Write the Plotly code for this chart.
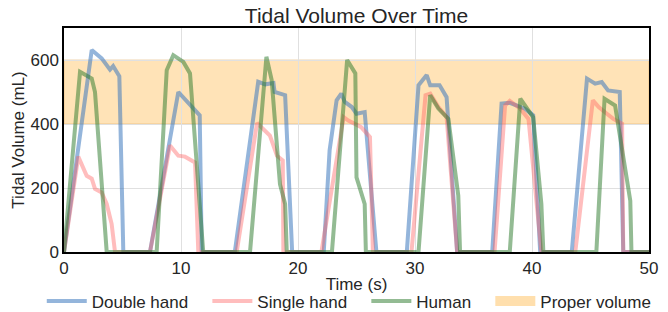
import plotly.graph_objects as go

# Double hand
t_double = [0, 2.37, 3.22, 3.93, 4.2, 4.73, 5.07, 7.35, 9.77, 11.6, 11.77, 14.6, 16.6, 17.2, 17.9, 18.0,
            18.9, 19.5, 22.2, 22.7, 23.3, 23.7, 24.0, 24.6, 25.0, 25.7, 26.7, 29.3, 30.3, 31.0, 31.3, 32.1,
            32.7, 33.6, 36.6, 37.4, 38.1, 38.8, 39.4, 40.1, 40.7, 43.4, 44.7, 45.4, 45.96, 46.5, 47.5, 47.8, 50]
v_double = [0, 631, 605, 570, 581, 549, 0, 0, 500, 427, 0, 0, 532, 524, 528, 500,
            490, 0, 0, 317, 474, 495, 469, 453, 432, 437, 0, 0, 521, 553, 521, 521,
            484, 0, 0, 464, 466, 458, 448, 427, 0, 0, 542, 526, 531, 505, 500, 0, 0]

# Single hand
t_single = [0, 1.22, 1.94, 2.37, 2.65, 3.22, 3.65, 4.07, 4.36, 7.35, 9.06, 9.77, 10.34, 11.2, 11.48,
            14.76, 16.5, 16.9, 17.6, 18.2, 18.7, 18.75, 22.0, 23.9, 24.3, 25.4, 26.15, 26.4,
            29.7, 30.9, 31.3, 32.0, 32.7, 33.6, 36.8, 37.7, 38.1, 39.0, 39.7, 40.8,
            43.7, 45.2, 45.7, 46.4, 46.95, 47.7, 47.8, 50]
v_single = [0, 298, 238, 229, 197, 186, 150, 88, 0, 0, 333, 301, 298, 280, 0,
            0, 403, 388, 364, 301, 286, 0, 0, 422, 411, 390, 359, 0,
            0, 490, 495, 453, 422, 0, 0, 458, 472, 448, 416, 0,
            0, 474, 453, 432, 416, 401, 0, 0]

# Human
t_human = [0, 1.37, 2.37, 2.65, 3.65, 7.92, 8.78, 9.34, 10.2, 10.77, 11.9, 15.9, 17.3, 17.75, 18.46,
           18.9, 19.04, 22.9, 24.2, 24.9, 25.0, 25.7, 25.8, 30.3, 31.3, 32.0, 32.85, 33.7, 33.85,
           38.1, 39.0, 39.5, 40.1, 40.8, 40.97, 45.5, 46.2, 47.1, 48.4, 48.5, 50]
v_human = [0, 563, 542, 500, 0, 0, 568, 615, 594, 558, 0, 0, 610, 537, 212,
           150, 0, 0, 600, 558, 233, 150, 0, 0, 490, 448, 416, 176, 0,
           0, 479, 453, 421, 150, 0, 0, 479, 458, 160, 0, 0]

series_names = ["Double hand", "Single hand", "Human", "Proper volume"]
proper_low, proper_high = 400, 600
x_ticks = [0, 10, 20, 30, 40, 50]
y_ticks = [0, 200, 400, 600]

FONT = "Liberation Sans, Arial, sans-serif"
TXT = "#262626"
PAD = "\u00a0\u00a0\u00a0"

fig = go.Figure()
fig.add_trace(go.Scatter(x=t_double, y=v_double, mode="lines", name=series_names[0] + PAD,
                         line=dict(color="rgba(60,120,190,0.55)", width=4)))
fig.add_trace(go.Scatter(x=t_single, y=v_single, mode="lines", name=series_names[1] + PAD,
                         line=dict(color="rgba(255,90,90,0.4)", width=4)))
fig.add_trace(go.Scatter(x=t_human, y=v_human, mode="lines", name=series_names[2] + PAD,
                         line=dict(color="rgba(40,120,40,0.5)", width=4)))
# legend entry for the band
fig.add_trace(go.Scatter(x=[None], y=[None], mode="lines", name=series_names[3],
                         line=dict(color="rgba(255,175,50,0.4)", width=14)))

fig.add_shape(type="rect", xref="paper", yref="y", x0=0, x1=1, y0=proper_low, y1=proper_high,
              fillcolor="rgba(255,175,50,0.35)", line=dict(color="rgba(220,160,80,0.45)", width=1),
              layer="below")

fig.update_layout(
    width=668, height=312,
    margin=dict(l=64, r=19, t=28, b=60, autoexpand=False),
    paper_bgcolor="white", plot_bgcolor="white",
    font=dict(family=FONT, size=17, color=TXT),
    title=dict(text="Tidal Volume Over Time", xref="paper", x=0.5, xanchor="center",
               y=1 - 16 / 312, yanchor="middle", yref="container",
               font=dict(size=21, color=TXT, family=FONT)),
    showlegend=True,
    legend=dict(orientation="h", x=-0.038, xanchor="left", y=-0.14, yanchor="top",
                font=dict(size=17, family=FONT), itemwidth=40, tracegroupgap=0),
)
fig.update_xaxes(range=[0, 50], tickvals=x_ticks, showgrid=True, gridcolor="#e0e0e0",
                 showline=True, linecolor="black", linewidth=1.5, mirror=True, ticks="",
                 zeroline=False, automargin=False,
                 title=dict(text="Time (s)", standoff=1, font=dict(size=17, family=FONT)))
fig.update_yaxes(range=[0, 700], tickvals=y_ticks, showgrid=True, gridcolor="#e0e0e0",
                 showline=True, linecolor="black", linewidth=1.5, mirror=True, ticks="",
                 zeroline=False, automargin=False,
                 title=dict(text="Tidal Volume (mL)", standoff=2, font=dict(size=17, family=FONT)))

# remove the browser's default 8px page margin so the 668x312 figure fills the window
fig.write_html("out.html", config={"displayModeBar": False},
               post_script="document.body.style.margin='0';")
